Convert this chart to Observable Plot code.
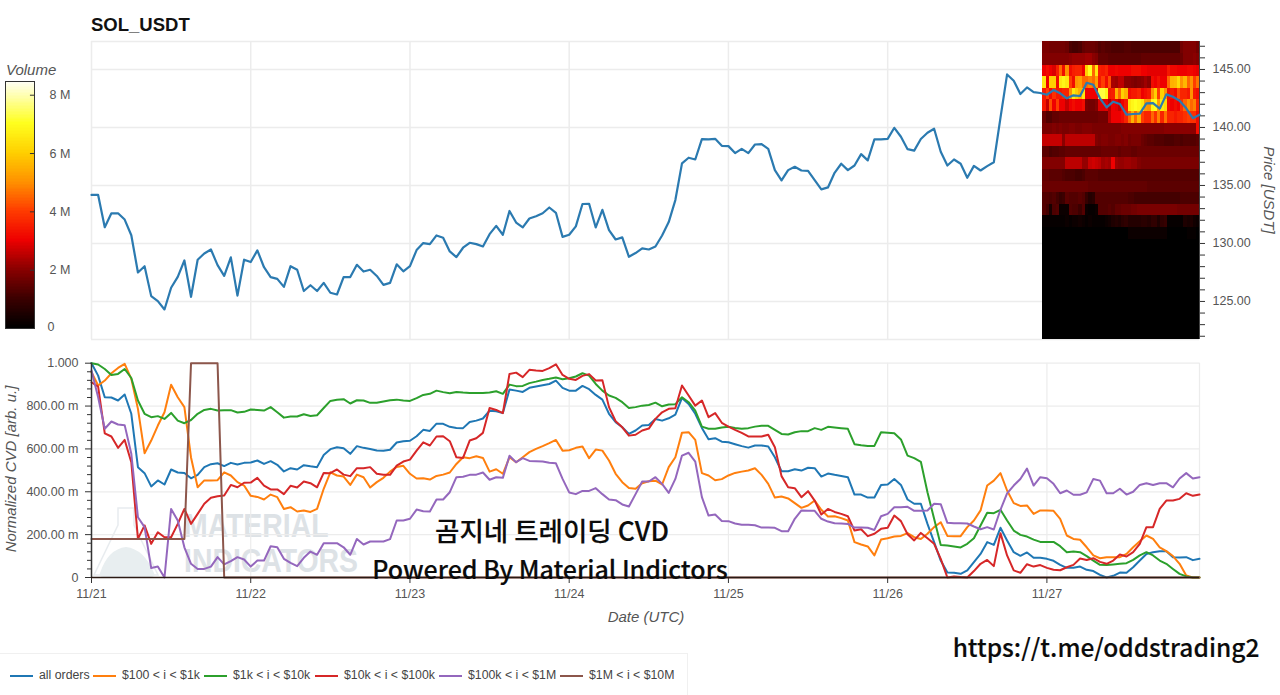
<!DOCTYPE html>
<html><head><meta charset="utf-8">
<script src="https://cdn.jsdelivr.net/npm/d3@7"></script>
<script src="https://cdn.jsdelivr.net/npm/@observablehq/plot@0.6"></script>
<style>
html,body{margin:0;padding:0;background:#fff;width:1280px;height:695px;overflow:hidden;font-family:"Liberation Sans",Arial,sans-serif}
.abs{position:absolute;white-space:nowrap}
.axt{font-style:italic;font-size:15px;color:#555}
.ov{font-family:"Noto Sans CJK KR","Noto Sans",sans-serif;font-weight:500;color:#0b0b0b;-webkit-text-stroke:.15px #0b0b0b;line-height:1}
.wm{font-weight:700;font-size:33px;color:#dde2e6;transform-origin:0 50%;transform:scaleX(.86);line-height:33px}
.lg{font-size:12.3px;color:#444;top:668px}
.sw{height:2px;width:23px;top:674.5px}
svg{overflow:visible}
</style></head><body>
<svg class="abs" style="left:92px;top:505px" width="80" height="75">
<path d="M26 3H42V20L66 70H2L26 20Z" fill="none" stroke="#e8ecef" stroke-width="1.5"/>
<path d="M8 68Q16 44 34 42Q52 44 62 68Q64 72 58 72H12Q6 72 8 68Z" fill="#e8eef0"/>
</svg>
<div class="abs wm" style="left:184px;top:509px">MATERIAL</div>
<div class="abs wm" style="left:184px;top:544px">INDICATORS</div>
<div id="top" class="abs" style="left:0;top:0"></div>
<div id="bot" class="abs" style="left:0;top:350px"></div>
<div id="bar" class="abs" style="left:0;top:70px"></div>
<div class="abs" style="left:91px;top:14px;font-size:18.5px;font-weight:700;color:#111">SOL_USDT</div>
<div class="abs axt" style="left:6px;top:61px">Volume</div>
<div class="abs axt" style="left:1269px;top:190px;transform:translate(-50%,-50%) rotate(90deg)">Price [USDT]</div>
<div class="abs axt" style="left:10px;top:469px;transform:translate(-50%,-50%) rotate(-90deg)">Normalized CVD [arb. u.]</div>
<div class="abs axt" style="left:646px;top:608px;transform:translateX(-50%)">Date (UTC)</div>
<div class="abs ov" style="left:552px;top:530px;font-size:26.5px;transform:translate(-50%,-50%)">곰지네 트레이딩 CVD</div>
<div class="abs ov" style="left:550px;top:567.5px;font-size:25px;transform:translate(-50%,-50%)">Powered By Material Indictors</div>
<div class="abs ov" style="left:1106px;top:647px;font-size:24.5px;transform:translate(-50%,-50%)">https://t.me/oddstrading2</div>
<div class="abs" style="left:0;top:653px;width:687px;height:42px;border-top:1px solid #f0f0f0;border-right:1px solid #f0f0f0"></div>
<div id="legend"></div>
<script>
const allOrders=[1000,942,841,840,826,854,764,515,487,425,453,434,504,490,488,463,479,515,529,533,520,535,527,535,
537,546,530,543,526,495,510,504,524,519,515,572,599,608,603,577,613,605,600,593,591,596,630,636,
638,659,689,684,718,717,703,698,697,726,732,742,778,776,768,877,872,866,885,891,897,903,919,885,
872,872,894,879,852,830,764,725,701,670,686,709,712,740,732,743,760,838,810,764,698,645,650,634,
631,622,613,606,616,616,611,561,496,496,505,499,512,510,471,485,479,474,468,387,387,373,373,432,
434,460,432,364,344,344,250,165,79,23,22,17,33,72,110,165,152,232,173,118,101,117,92,92,
87,78,59,45,45,51,36,30,12,0,8,23,22,48,79,110,118,123,123,95,93,95,81,87];
const usd100to1k=[958,896,919,953,978,997,927,787,580,639,709,771,899,841,795,560,421,453,453,454,491,476,445,429,
381,376,364,387,375,320,328,308,313,306,320,414,491,476,471,432,480,468,420,445,465,494,516,521,
484,462,463,457,474,480,490,530,561,557,566,558,494,505,484,561,538,561,585,600,613,627,642,592,
594,605,611,557,597,592,546,484,445,418,414,440,449,452,434,515,561,676,678,642,487,476,454,459,
476,488,494,499,510,479,437,373,378,369,347,325,336,359,316,285,286,277,266,165,154,145,103,177,
183,191,194,207,188,180,204,235,258,194,193,193,235,266,313,429,452,487,406,347,334,336,297,313,
313,311,274,196,180,176,141,103,90,95,95,95,110,141,169,196,180,141,123,100,64,9,0,0];
const usd1kto10k=[1000,994,973,945,950,973,931,826,764,748,753,740,768,732,720,735,764,782,787,779,781,781,770,773,
784,782,779,795,771,746,751,751,762,754,757,791,824,829,832,812,827,826,815,815,821,827,830,826,
824,837,852,857,872,865,860,866,863,861,861,861,863,869,857,900,893,894,907,914,922,927,933,925,
930,938,953,942,903,872,849,838,818,791,795,802,805,816,799,807,809,841,818,779,704,694,694,700,
703,698,694,697,704,708,708,689,670,667,678,683,683,697,689,703,700,697,694,622,617,614,614,678,
676,673,644,569,557,540,398,274,152,149,145,140,157,183,243,302,300,316,266,219,199,191,177,166,
166,166,146,118,121,118,100,79,59,58,61,64,67,82,103,118,103,79,64,40,17,5,0,0];
const usd10kto100k=[911,891,673,658,605,642,538,180,243,157,211,188,188,250,320,250,297,344,372,379,383,432,421,442,
443,465,429,411,411,389,428,420,448,440,421,488,487,504,480,473,510,510,515,484,479,479,522,541,
550,592,631,616,658,659,636,561,558,639,650,675,791,782,767,950,956,935,969,966,964,977,995,945,
927,922,941,949,919,921,795,729,701,662,666,686,695,740,771,787,790,896,849,802,826,748,767,722,
704,689,675,658,658,658,666,608,473,421,417,375,403,359,294,320,306,297,286,219,225,193,204,227,
232,289,263,202,173,208,183,157,87,0,5,2,0,30,64,82,53,207,103,33,22,62,51,58,
45,36,34,48,59,89,82,90,73,64,79,107,98,118,157,235,235,320,359,359,367,393,381,387];
const usd100kto1m=[966,841,694,728,714,711,577,281,235,44,51,0,320,266,141,64,40,40,51,95,61,76,95,84,
51,79,79,146,141,87,68,53,92,121,106,160,160,160,141,106,180,154,168,168,168,179,266,266,
274,317,309,308,364,364,398,468,470,479,480,490,456,468,465,568,538,557,544,543,541,535,533,460,
397,389,404,404,417,389,364,361,341,331,389,448,448,468,437,395,460,569,582,541,375,289,294,264,
263,252,246,246,244,233,233,232,216,216,274,313,311,311,274,261,253,252,250,233,233,232,222,286,
297,328,328,330,311,311,313,344,342,255,253,253,252,238,225,235,224,316,393,429,460,508,429,468,
463,437,393,406,386,386,397,460,452,393,393,414,387,400,432,440,432,440,440,421,462,487,462,468];
const usd1mto10mRuns=[[15,180],[5,1000],[148,0]];
const usd1mto10m=usd1mto10mRuns.flatMap(([n,v])=>Array(n).fill(v));
const priceClose=[134.18,134.18,131.4,132.6,132.6,132.06,130.71,127.5,128.04,125.46,125.03,124.31,126.18,127.12,128.53,125.4,128.6,129.13,129.48,128.13,127.2,128.8,125.5,128.6,
128.4,129.4,127.95,127.1,126.95,126.26,128.04,127.73,125.9,126.4,125.9,126.6,125.75,125.6,127.1,127.1,128.16,127.58,127.73,127.2,126.43,126.6,128.2,127.6,
128.05,129.43,130.03,129.94,130.69,130.49,129.31,128.82,129.63,130.06,129.94,129.74,130.8,131.52,130.75,132.8,131.8,131.38,132.15,132.35,132.6,133.1,132.64,130.57,
130.75,131.47,133.4,133.42,131.38,132.9,131.15,130.34,130.52,128.85,129.17,129.57,129.48,129.74,130.69,131.84,133.74,136.9,137.39,137.24,139.0,138.97,139.02,138.42,
138.39,137.79,138.16,137.79,138.53,138.56,138.16,136.32,135.43,136.32,136.61,136.29,136.26,135.46,134.66,134.83,136.09,136.87,136.32,136.72,137.7,137.16,138.97,138.97,
139.02,139.97,139.2,138.13,138.0,139.0,139.54,139.89,137.9,136.72,137.24,136.87,135.66,136.69,136.29,136.67,137.0,140.83,144.57,144.03,142.88,143.45,143.05,142.97,
142.82,143.22,142.94,142.51,142.77,142.71,143.85,143.68,142.51,141.73,142.22,142.02,141.1,141.16,141.2,142.08,142.1,141.62,142.85,142.65,142.3,141.65,140.8,141.1];
const seriesNames=["all orders","$100 < i < $1k","$1k < i < $10k","$10k < i < $100k","$100k < i < $1M","$1M < i < $10M"];
const seriesColors=["#1f77b4","#ff7f0e","#2ca02c","#d62728","#9467bd","#8c564b"];
const seriesValues=[allOrders,usd100to1k,usd1kto10k,usd10kto100k,usd100kto1m,usd1mto10m];
const legendSwatchX=[10,93,204,315,439,560];
const volumeRowPriceLow=[146.37,145.37,144.37,143.37,142.37,141.37,140.37,139.37,138.37,137.37,136.37,135.37,134.37,133.37,132.37,131.37,130.37];
const volumeRows=[
[1.8,1.8,1.7,1.7,1.7,1.7,1.7,1.6,1.2,1.1,1.1,1.2,1.5,1.6,1.6,1.6,1.5,1.3,1.4,1.3,1.3,1.2,1.2,1.2,1.2,1.3,1.3,1.2,1.2,1.2,1.2,1.2,1.2,1.2,1.2,1.2,1.2,1.2,1.2,1.2,1.2,1.2,1.7,1.9,1.9,1.9,1.9,1.7],
[1.9,1.9,1.9,1.9,1.9,1.9,1.9,1.9,2.0,2.1,2.1,2.1,2.1,2.2,2.2,2.0,1.9,1.5,1.5,1.5,1.4,1.4,1.4,1.4,1.4,1.4,1.4,1.4,1.4,1.4,1.5,1.5,1.5,1.5,1.5,1.5,1.5,1.5,1.5,1.5,1.5,1.5,1.6,1.9,1.9,1.9,2.0,1.9],
[3.0,3.2,3.0,2.8,3.5,4.5,3.2,5.0,3.2,3.5,3.6,3.6,3.0,6.0,7.0,4.5,6.5,3.5,3.4,3.6,3.0,3.0,3.1,3.0,3.0,3.0,3.0,3.2,3.2,3.2,3.0,3.0,2.9,2.9,2.9,2.9,2.9,2.9,3.4,3.1,3.1,3.0,3.0,3.0,3.1,3.1,3.0,2.9],
[6.5,3.0,6.0,6.0,3.2,6.5,6.8,6.5,4.0,3.2,5.0,5.2,4.5,4.5,4.8,4.5,5.2,3.4,4.0,3.2,4.2,2.3,2.2,2.5,2.5,2.0,2.0,1.9,1.8,1.9,2.0,2.2,2.0,3.2,3.0,3.3,3.0,3.0,4.5,5.5,5.6,6.2,5.0,5.6,4.5,5.0,4.0,4.6],
[3.4,4.0,3.2,3.8,3.4,3.4,3.6,3.6,5.0,6.5,6.0,5.5,6.5,3.0,3.0,3.0,3.0,7.2,7.2,6.8,3.4,3.5,5.5,4.5,6.0,5.5,3.2,3.4,3.4,3.6,3.0,3.2,3.4,5.0,6.0,4.0,6.0,5.0,3.2,3.4,3.2,4.2,3.6,3.6,3.4,5.0,3.4,3.2],
[3.4,2.6,4.2,3.0,4.0,3.0,3.0,2.6,3.0,3.2,3.0,3.0,3.2,1.8,1.7,1.7,1.9,2.8,2.8,2.9,2.4,3.0,2.9,2.6,3.0,3.4,6.5,6.8,7.0,6.8,6.5,5.2,5.0,6.8,7.0,5.2,6.5,6.2,3.2,3.0,3.2,3.0,3.8,4.5,5.0,4.5,4.8,3.6],
[1.6,1.3,1.3,1.5,1.5,1.6,1.6,1.6,1.6,1.6,1.6,1.6,1.6,1.6,1.6,1.6,1.6,1.7,1.7,1.7,2.5,3.0,3.0,3.0,3.2,3.6,4.5,5.5,4.5,5.5,4.0,3.6,3.6,4.5,3.8,4.8,3.6,4.6,3.6,3.6,3.4,3.6,3.6,3.8,4.0,3.8,3.8,3.2],
[1.8,1.8,1.8,1.9,1.8,1.9,1.8,1.8,1.9,1.9,1.8,1.8,1.9,1.9,1.9,1.8,1.8,1.8,1.8,1.8,1.8,1.8,1.8,1.8,1.9,1.9,1.9,1.9,1.9,1.9,1.9,1.9,1.9,1.9,1.9,1.9,1.9,2.0,2.0,2.0,2.0,2.0,2.0,2.0,2.0,2.0,2.0,3.2],
[2.6,2.6,2.6,2.6,2.6,2.6,2.0,2.5,2.5,2.5,2.5,2.5,2.5,2.5,2.5,2.5,1.9,1.8,1.9,1.9,1.8,1.8,1.9,1.9,1.8,1.9,1.7,1.8,1.8,1.8,1.6,1.5,1.4,1.4,1.3,1.3,1.3,1.2,1.2,1.2,1.3,1.3,1.2,1.3,1.3,1.3,1.3,1.4],
[1.4,1.4,1.2,1.3,1.3,1.4,1.4,1.5,1.5,1.5,1.5,1.5,1.5,1.5,1.5,1.5,1.5,1.5,1.6,1.6,1.6,1.6,1.6,1.5,1.6,1.6,1.6,1.5,1.5,1.6,1.6,1.6,1.6,1.6,1.6,1.6,1.6,1.6,1.6,1.6,1.6,1.6,1.6,1.6,1.6,1.6,1.6,1.6],
[1.9,1.9,1.9,1.9,1.9,1.9,1.9,2.5,2.5,2.5,2.5,2.5,2.1,2.1,2.6,2.7,2.6,2.5,2.2,2.3,2.2,3.0,2.2,2.1,2.1,2.2,2.2,2.1,2.1,1.9,1.8,1.8,1.8,1.8,1.8,1.8,1.8,1.8,1.8,1.8,1.8,1.8,1.8,1.8,1.8,1.8,1.8,1.8],
[1.5,1.5,1.4,1.4,1.4,1.4,1.3,1.2,1.2,1.2,1.1,1.1,1.2,1.4,1.4,1.4,1.4,1.3,1.3,1.3,1.3,1.3,1.3,1.3,1.3,1.3,1.3,1.3,1.3,1.3,1.3,1.3,1.3,1.3,1.3,1.3,1.3,1.3,1.3,1.3,1.3,1.3,1.3,1.3,1.3,1.3,1.3,1.3],
[1.6,1.6,1.6,1.6,1.6,1.6,1.6,1.6,1.6,1.6,1.6,1.6,1.6,1.6,1.5,1.5,1.5,1.5,1.5,1.5,1.5,1.5,1.5,1.5,1.5,1.5,1.5,1.5,1.5,1.5,1.5,1.5,1.4,1.4,1.4,1.4,1.4,1.4,1.4,1.4,1.4,1.4,1.4,1.4,1.4,1.4,1.4,1.4],
[1.3,1.3,1.2,1.3,1.1,0.9,1.0,1.4,1.3,1.3,1.3,1.4,1.3,0.9,0.6,0.7,1.3,1.3,1.3,1.3,1.3,1.3,1.3,1.3,1.3,1.3,1.2,1.2,1.1,1.1,1.1,1.1,1.1,1.1,1.1,1.1,1.1,1.1,1.1,1.1,1.1,1.1,1.2,1.2,1.2,1.2,1.2,1.2],
[1.3,1.1,0.4,1.2,1.3,0.2,0.2,0.2,1.3,1.2,1.2,1.0,1.3,0.2,0.1,0.1,0.2,1.3,1.3,1.3,1.4,1.3,1.5,1.5,1.6,1.6,1.6,1.7,1.7,1.8,1.8,1.8,1.8,1.8,1.8,1.8,1.8,1.8,1.8,1.8,1.8,1.7,1.7,1.7,1.7,1.7,1.7,1.7],
[0.1,0.1,0.1,0.1,0.1,0.1,0.1,0.2,0.1,0.2,0.2,0.3,0.2,0.1,0.2,0.1,0.1,0.1,0.1,0.2,0.3,0.5,0.6,0.5,0.7,0.8,0.6,0.6,0.6,0.6,0.7,0.7,0.6,0.8,0.8,0.5,0.8,0.9,0.1,0.1,0.1,0.1,0.1,0.5,0.4,0.5,0.3,0.2],
[0,0,0,0,0,0,0,0,0,0,0,0,0,0,0,0,0,0,0,0,0,0,0,0,0,0,0.2,0.2,0.2,0.2,0.2,0.2,0.2,0.2,0.2,0.2,0.2,0.2,0,0,0,0,0,0,0.1,0.1,0.1,0]
];
const volumeFloor={low:121.37,high:130.37,volume:0};
const priceDomain=[121.72,147.41];
const priceMajor=[125,130,135,140,145];
const priceMinor=[122,123,124,126,127,128,129,131,132,133,134,136,137,138,139,141,142,143,144,146,147];
const cvdMajor=[0,200,400,600,800,1000];
const cvdMinor=[40,80,120,160,240,280,320,360,440,480,520,560,640,680,720,760,840,880,920,960];
const volumeTicks=[0,2,4,6,8];
const colorDomain=[0,1,2,3,4,5,6,7,8.47];
const colorRange=["#000000","#3c0000","#8a0000","#ee0000","#ff3c00","#ff9200","#ffd000","#ffff1e","#ffffff"];
const font={fontFamily:"Liberation Sans, Arial, sans-serif",fontSize:"12.5px",background:"transparent"};
const hour=i=>new Date(Date.UTC(2025,10,21,i));
const hours=allOrders.map((_,i)=>hour(i));
const days=[0,24,48,72,96,120,144].map(hour);
const xDomain=[hour(0),hour(167)];
const colorScale={type:"linear",domain:colorDomain,range:colorRange,interpolate:"rgb"};
const gridC="#ececec";
const heatStartHour=143.4,heatStepHours=0.494;
const heatCells=volumeRows.flatMap((row,r)=>row.map((v,c)=>({
 t1:new Date(hour(0).getTime()+(heatStartHour+c*heatStepHours)*36e5),
 t2:new Date(hour(0).getTime()+(heatStartHour+(c+1)*heatStepHours)*36e5),
 low:volumeRowPriceLow[r],high:Math.min(volumeRowPriceLow[r]+1,priceDomain[1]),volume:v})));
heatCells.push({t1:heatCells[0].t1,t2:heatCells[47].t2,low:priceDomain[0],high:volumeFloor.high,volume:volumeFloor.volume});

document.getElementById("top").append(Plot.plot({
 width:1280,height:350,marginLeft:91,marginRight:81,marginTop:41,marginBottom:11,style:font,
 x:{type:"utc",domain:xDomain,axis:null},y:{domain:priceDomain},color:colorScale,
 marks:[
  Plot.gridX(days,{stroke:gridC,strokeOpacity:1,strokeWidth:1.5}),
  Plot.gridY(priceMajor,{stroke:gridC,strokeOpacity:1,strokeWidth:1.5}),
  Plot.ruleY(priceDomain,{stroke:gridC,strokeWidth:1.5}),
  Plot.rect(heatCells,{x1:"t1",x2:"t2",y1:"low",y2:"high",fill:"volume",shapeRendering:"crispEdges"}),
  Plot.ruleX([xDomain[1]],{stroke:"#444"}),
  Plot.axisY({anchor:"right",ticks:priceMajor,tickFormat:d=>d.toFixed(2),label:null,tickSize:5,tickPadding:8,stroke:"#333",fill:"#555"}),
  Plot.axisY({anchor:"right",ticks:priceMinor,tickFormat:()=>"",label:null,tickSize:5,stroke:"#333"}),
  Plot.lineY(priceClose,{x:(d,i)=>hours[i],y:d=>d,stroke:"#2b7ab0",strokeWidth:2.2})
 ]}));

document.getElementById("bot").append(Plot.plot({
 width:1280,height:265,marginLeft:91,marginRight:81,marginTop:12.7,marginBottom:38,style:font,
 x:{type:"utc",domain:xDomain},y:{domain:[0,1000]},
 marks:[
  Plot.gridX(days,{stroke:gridC,strokeOpacity:1,strokeWidth:1.2}),
  Plot.gridY(cvdMajor,{stroke:gridC,strokeOpacity:1,strokeWidth:1.2}),
  Plot.ruleX([xDomain[1]],{stroke:gridC,strokeWidth:1.2}),
  ...seriesValues.map((vals,k)=>Plot.lineY(vals,{x:(d,i)=>hours[i],y:d=>d,stroke:seriesColors[k],strokeWidth:2})),
  Plot.ruleX([xDomain[0]],{stroke:"#333",strokeWidth:1.5}),
  Plot.axisY({ticks:cvdMajor,tickFormat:d=>d===1000?"1.000":d===0?"0":d.toFixed(2)+" m",label:null,tickSize:6,tickPadding:7,stroke:"#333",fill:"#555"}),
  Plot.axisY({ticks:cvdMinor,tickFormat:()=>"",label:null,tickSize:4,stroke:"#333"}),
  Plot.axisX({ticks:days,tickFormat:d3.utcFormat("%m/%d"),label:null,tickSize:6,tickPadding:6,stroke:"#333",fill:"#555"}),
  Plot.ruleY([0],{stroke:"#2a1a14",strokeWidth:1.5})
 ]}));

const barLevels=d3.range(0,8.47,0.05);
document.getElementById("bar").append(Plot.plot({
 width:80,height:268,marginLeft:5,marginRight:46,marginTop:11,marginBottom:10,style:font,
 x:{domain:[0,1],axis:null},y:{domain:[0,8.47],axis:null},color:colorScale,
 marks:[
  Plot.rect(barLevels,{x1:0,x2:1,y1:d=>d,y2:d=>Math.min(d+0.05,8.47),fill:d=>d,shapeRendering:"crispEdges"}),
  Plot.ruleY(volumeTicks.slice(1),{x1:0.86,x2:1,stroke:"#333"}),
  Plot.frame({stroke:"#333"}),
  Plot.text(volumeTicks.slice(1),{x:1,y:d=>d,text:d=>d+" M",textAnchor:"start",dx:15,fill:"#555"}),
  Plot.text(volumeTicks.slice(0,1),{x:1,y:d=>d,text:d=>String(d),textAnchor:"start",dx:13,dy:-2,fill:"#555"})
 ]}));

const lg=document.getElementById("legend");
seriesNames.forEach((n,k)=>{
 const s=document.createElement("div");s.className="abs sw";s.style.left=legendSwatchX[k]+"px";s.style.background=seriesColors[k];lg.append(s);
 const t=document.createElement("div");t.className="abs lg";t.style.left=(legendSwatchX[k]+29)+"px";t.textContent=n;lg.append(t);
});
</script>
</body></html>
